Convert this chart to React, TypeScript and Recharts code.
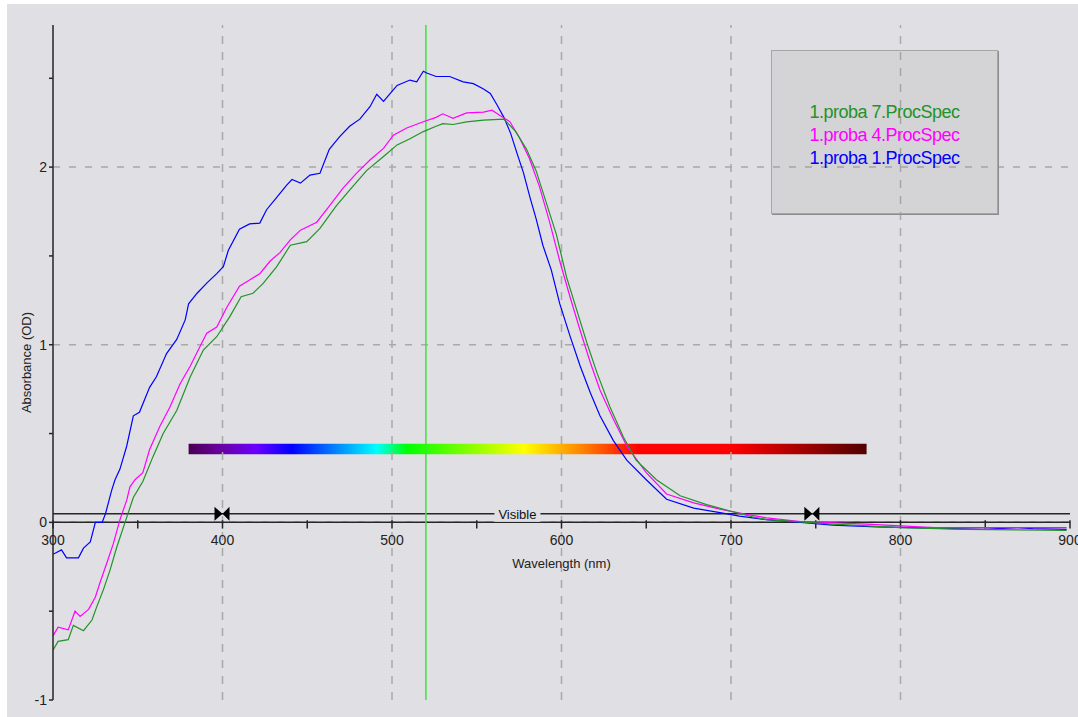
import { LineChart, Line, XAxis, YAxis, ReferenceLine, ReferenceArea, ReferenceDot, Legend } from 'recharts';

// spectra (wavelength nm / absorbance OD)
const proba1Wl = [300, 305, 308, 315, 318, 322, 325, 329, 331, 334.6, 336.6, 339.5, 343.5, 347.4, 351, 357, 361, 367, 373, 378, 380, 385, 391, 396.6, 400.5, 403.4, 410, 416, 422, 426, 432, 438, 441, 446, 451.6, 457.5, 463, 469, 475, 481, 487, 491, 495, 499, 503, 510.6, 514.6, 518.5, 520.5, 526, 534, 542, 548, 554, 558, 562, 566, 570, 574, 577.5, 581.4, 585, 589, 594, 599, 605, 611, 617, 622.7, 630.6, 638.5, 650, 662, 678, 693.5, 705, 721, 741, 760, 786, 806, 849, 869, 878, 898];
const proba1Abs = [-0.18, -0.155, -0.2, -0.2, -0.145, -0.11, 0, 0, 0.05, 0.18, 0.24, 0.3, 0.43, 0.6, 0.62, 0.76, 0.82, 0.95, 1.03, 1.14, 1.23, 1.29, 1.35, 1.4, 1.44, 1.53, 1.65, 1.68, 1.685, 1.76, 1.83, 1.9, 1.93, 1.91, 1.955, 1.965, 2.1, 2.17, 2.23, 2.27, 2.34, 2.41, 2.37, 2.415, 2.46, 2.49, 2.48, 2.54, 2.53, 2.51, 2.51, 2.48, 2.47, 2.44, 2.415, 2.35, 2.28, 2.19, 2.07, 1.97, 1.83, 1.71, 1.56, 1.42, 1.23, 1.05, 0.88, 0.73, 0.6, 0.46, 0.35, 0.24, 0.13, 0.08, 0.055, 0.035, 0.015, 0, -0.015, -0.025, -0.03, -0.04, -0.03, -0.035, -0.04];

const proba4Wl = [300, 303, 309, 313, 316, 321, 325, 327.7, 331.7, 335.6, 339.5, 343.5, 345.4, 348.4, 353, 357, 363, 369, 375, 381, 385.7, 390.7, 396.6, 402.5, 410, 416, 422, 428, 434, 440, 446, 455.6, 463, 471, 479, 487, 495, 500.8, 508.7, 518.5, 526, 530, 536, 544, 554, 559, 563.7, 569.6, 575.5, 581, 587, 593, 599, 605, 611, 617, 622.7, 630.6, 638.5, 650, 662, 678, 693.5, 709, 721, 741, 780, 820, 859, 898];
const proba4Abs = [-0.64, -0.59, -0.605, -0.5, -0.53, -0.49, -0.42, -0.34, -0.23, -0.12, 0.015, 0.125, 0.2, 0.24, 0.28, 0.41, 0.54, 0.65, 0.78, 0.88, 0.97, 1.065, 1.1, 1.21, 1.33, 1.365, 1.4, 1.47, 1.52, 1.59, 1.645, 1.69, 1.78, 1.88, 1.965, 2.04, 2.105, 2.18, 2.22, 2.255, 2.28, 2.3, 2.275, 2.305, 2.31, 2.32, 2.29, 2.255, 2.16, 2.05, 1.89, 1.69, 1.47, 1.27, 1.08, 0.9, 0.745, 0.58, 0.43, 0.28, 0.16, 0.11, 0.075, 0.045, 0.025, 0.005, -0.01, -0.03, -0.03, -0.03];

const proba7Wl = [300, 303, 309, 312, 318, 323, 326, 329.7, 333.6, 337.6, 342.5, 347.4, 353, 359, 365, 373, 381, 388.7, 396.6, 404.4, 411, 418, 424, 432, 440, 449.7, 457.5, 467, 475, 485, 495, 503, 510.6, 518.5, 526, 530, 536, 544, 554, 566, 568, 573, 579.4, 585, 591, 597, 603, 609, 615, 621, 628.6, 636.5, 644, 656, 670, 685.6, 701, 713, 721, 760, 800, 839, 898];
const proba7Abs = [-0.72, -0.67, -0.66, -0.58, -0.61, -0.55, -0.47, -0.38, -0.27, -0.14, 0, 0.14, 0.23, 0.37, 0.5, 0.63, 0.82, 0.97, 1.045, 1.16, 1.27, 1.29, 1.345, 1.44, 1.56, 1.58, 1.655, 1.78, 1.87, 1.98, 2.06, 2.125, 2.16, 2.2, 2.23, 2.245, 2.24, 2.255, 2.265, 2.27, 2.25, 2.2, 2.1, 1.98, 1.8, 1.62, 1.38, 1.195, 1.01, 0.84, 0.65, 0.48, 0.35, 0.24, 0.15, 0.1, 0.06, 0.03, 0.015, -0.01, -0.03, -0.04, -0.045];

const xDomain = [300, 900];
const yDomain = [-1, 2.8];
const yTicks = [-1, -0.5, 0, 0.5, 1, 1.5, 2, 2.5];
const xMajor = [300, 400, 500, 600, 700, 800, 900];
const xMinor = [350, 450, 550, 650, 750, 850];
const gridX = [400, 500, 600, 700, 800];
const gridY = [0, 1, 2];
const cursorWl = 520;
const spectrumRange = [380, 780];
const spectrumBand = [0.384, 0.442];
const visibleLevel = 0.048;
const visibleMarkers = [400, 748];
const visibleLabelAt = 574;
const legendOrder = ['1.proba 7.ProcSpec', '1.proba 4.ProcSpec', '1.proba 1.ProcSpec'];

// colour stops of the rainbow bar: [wavelength, colour]
const spectrumStops: [number, string][] = [
  [380, '#4a0052'], [400, '#6a00a6'], [420, '#6a00ff'], [441, '#0000ff'], [491, '#00ffff'],
  [509, '#00ff00'], [578, '#ffff00'], [613, '#ff8000'], [645, '#ff0000'], [700, '#ff0000'], [780, '#520000'],
];

const BG = '#e0dfe3';
const GRID = '#a9a9a9';
const AXIS = '#262626';
const FONT = '"Liberation Sans", Arial, sans-serif';

const toPoints = (wl: number[], abs: number[]) => wl.map((w, i) => ({ w, a: abs[i] }));

function Bowtie({ cx, cy }: any) {
  return (
    <path
      d={`M${cx - 8},${cy - 7} L${cx},${cy} L${cx - 8},${cy + 7} Z M${cx + 7},${cy - 7} L${cx},${cy} L${cx + 7},${cy + 7} Z`}
      fill="#000"
    />
  );
}

function VisibleTag({ cx, cy }: any) {
  return (
    <g>
      <rect x={cx - 23} y={cy - 8} width={46} height={16} fill={BG} />
      <text x={cx} y={cy + 5} textAnchor="middle" fontSize={13} fill="#111">Visible</text>
    </g>
  );
}

function LegendBox({ payload }: any) {
  const items = [...(payload || [])].sort(
    (a: any, b: any) => legendOrder.indexOf(a.value) - legendOrder.indexOf(b.value)
  );
  return (
    <div
      style={{
        width: 227, height: 164, background: 'rgba(150,150,140,0.16)', border: '1px solid #a6a6a6',
        boxShadow: '1px 1px 0 #8c8c8c', display: 'flex', flexDirection: 'column', justifyContent: 'center',
        alignItems: 'center', paddingTop: 6, boxSizing: 'border-box', fontFamily: FONT,
      }}
    >
      {items.map((p: any) => (
        <div key={p.value} style={{ color: p.color, fontSize: 18, lineHeight: '23px', letterSpacing: '-0.5px' }}>
          {p.value}
        </div>
      ))}
    </div>
  );
}

export default function App() {
  return (
    <div style={{ position: 'relative', width: 1078, height: 717, background: '#fff', fontFamily: FONT }}>
      <style>{'body{margin:0}'}</style>
      <div style={{ position: 'absolute', left: 7, top: 4, right: 0, bottom: 0, background: BG }} />
      <div style={{ position: 'absolute', left: 0, top: 0 }}>
        <LineChart width={1078} height={717} margin={{ top: 25, right: 8, bottom: 17, left: 8 }}>
          <defs>
            <linearGradient id="spectrum" x1="0" y1="0" x2="1" y2="0">
              {spectrumStops.map(([w, c]) => (
                <stop key={w} offset={(w - spectrumRange[0]) / (spectrumRange[1] - spectrumRange[0])} stopColor={c} />
              ))}
            </linearGradient>
          </defs>
          <XAxis dataKey="w" type="number" domain={xDomain} allowDataOverflow hide />
          <YAxis
            type="number"
            domain={yDomain}
            allowDataOverflow
            ticks={yTicks}
            interval={0}
            width={45}
            axisLine={{ stroke: AXIS, strokeWidth: 1.5 }}
            tickLine={{ stroke: AXIS, strokeWidth: 1.5 }}
            tickSize={4}
            tick={{ fontSize: 14, fill: '#222' }}
            tickFormatter={(v: number) => (Number.isInteger(v) ? String(v) : '')}
            label={{ value: 'Absorbance (OD)', angle: -90, position: 'center', dx: -4, fontSize: 13, fill: '#222' }}
          />
          {gridX.map((x) => (
            <ReferenceLine key={'gx' + x} x={x} stroke={GRID} strokeWidth={1.5} strokeDasharray="8 8" />
          ))}
          {gridY.map((y) => (
            <ReferenceLine key={'gy' + y} y={y} stroke={GRID} strokeWidth={1.5} strokeDasharray="7 9" />
          ))}
          <ReferenceArea
            x1={spectrumRange[0]} x2={spectrumRange[1]} y1={spectrumBand[0]} y2={spectrumBand[1]}
            fill="url(#spectrum)" fillOpacity={1} stroke="none"
          />
          <ReferenceLine
            y={0} stroke={AXIS} strokeWidth={1.5}
            label={{ value: 'Wavelength (nm)', position: 'bottom', offset: 36, fontSize: 13, fill: '#222' }}
          />
          {xMajor.map((x) => (
            <ReferenceLine
              key={'mj' + x}
              segment={[{ x, y: 0.012 }, { x, y: -0.035 }]}
              stroke={AXIS} strokeWidth={1.5} ifOverflow="visible"
              label={{ value: String(x), position: 'bottom', offset: 6, fontSize: 14, fill: '#222' }}
            />
          ))}
          {xMinor.map((x) => (
            <ReferenceLine key={'mn' + x} segment={[{ x, y: 0.012 }, { x, y: -0.035 }]} stroke={AXIS} strokeWidth={1.5} />
          ))}
          <ReferenceLine
            segment={[{ x: xDomain[0], y: visibleLevel }, { x: xDomain[1], y: visibleLevel }]}
            stroke={AXIS} strokeWidth={1.5}
          />
          <ReferenceDot x={visibleLabelAt} y={visibleLevel} r={0} shape={VisibleTag} />
          {visibleMarkers.map((x) => (
            <ReferenceDot key={'bt' + x} x={x} y={visibleLevel} r={0} shape={Bowtie} />
          ))}
          <ReferenceLine x={cursorWl} stroke="#3fe23f" strokeWidth={1.5} />
          <Line data={toPoints(proba1Wl, proba1Abs)} dataKey="a" name="1.proba 1.ProcSpec" type="linear"
            stroke="#0000ff" strokeWidth={1.2} dot={false} isAnimationActive={false} />
          <Line data={toPoints(proba4Wl, proba4Abs)} dataKey="a" name="1.proba 4.ProcSpec" type="linear"
            stroke="#ff00ff" strokeWidth={1.2} dot={false} isAnimationActive={false} />
          <Line data={toPoints(proba7Wl, proba7Abs)} dataKey="a" name="1.proba 7.ProcSpec" type="linear"
            stroke="#22922a" strokeWidth={1.2} dot={false} isAnimationActive={false} />
          <Legend
            content={LegendBox}
            layout="horizontal"
            verticalAlign="middle"
            align="center"
            wrapperStyle={{ position: 'absolute', left: 771, top: 50, width: 229, height: 166 }}
          />
        </LineChart>
      </div>
    </div>
  );
}
